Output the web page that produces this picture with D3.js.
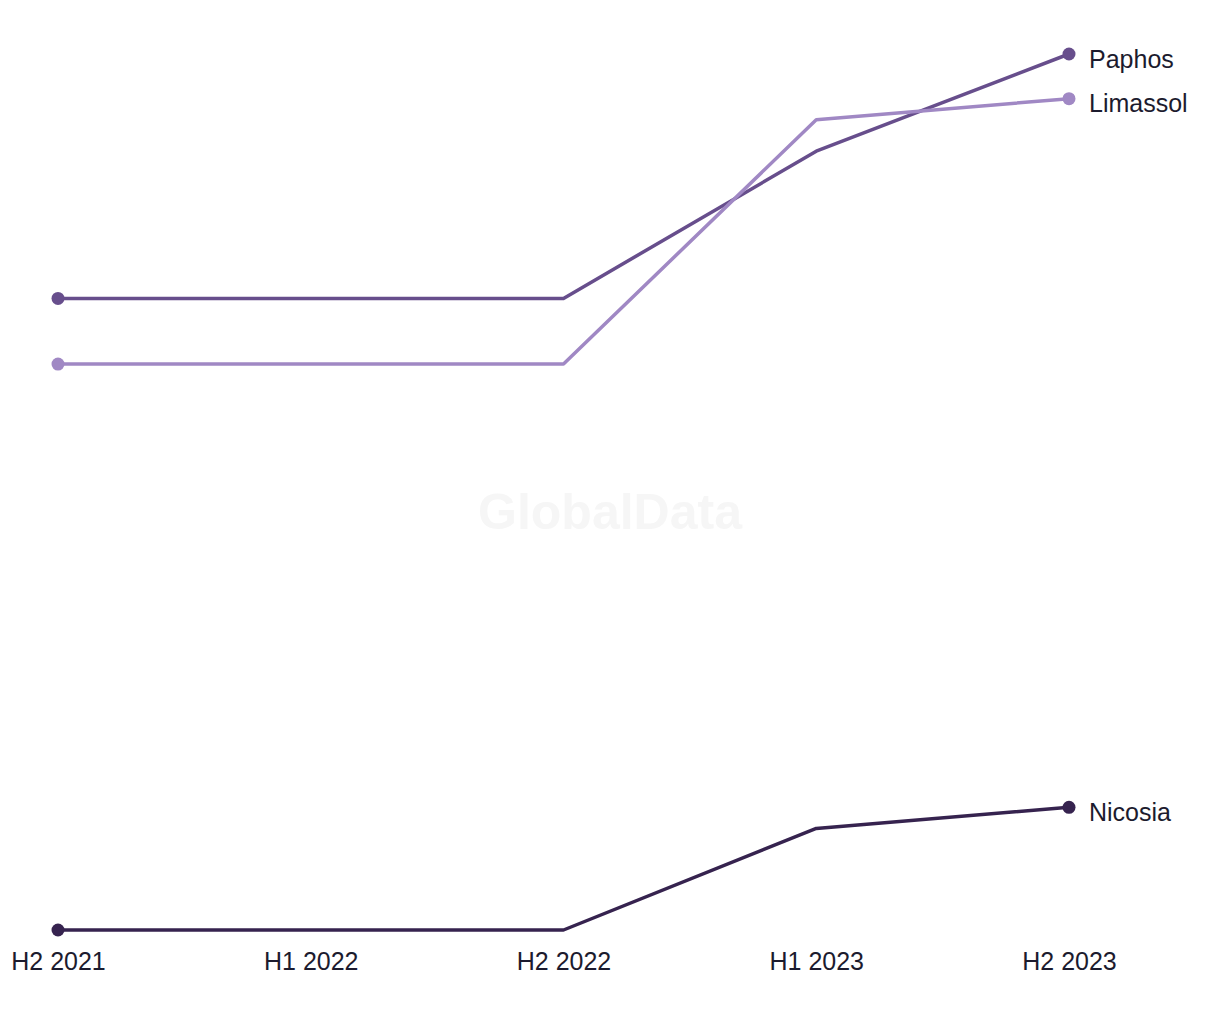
<!DOCTYPE html>
<html>
<head>
<meta charset="utf-8">
<script src="https://cdn.jsdelivr.net/npm/d3@7"></script>
<style>
  body { margin: 0; background: #fff; }
  text { font-family: "Liberation Sans", Arial, sans-serif; }
</style>
</head>
<body>
<div class="canvas"></div>
<script>
const dims = { width: 1220, height: 1020 };
const margin = { left: 58, right: 151, top: 54, bottom: 90 };

// periods along x
const periods = ['H2 2021', 'H1 2022', 'H2 2022', 'H1 2023', 'H2 2023'];

// index values (no y axis shown)
const paphos = [72.1, 72.1, 72.1, 88.9, 100];
const limassol = [64.6, 64.6, 64.6, 92.5, 94.9];
const nicosia = [0, 0, 0, 11.6, 14.0];

const cities = ['Paphos', 'Limassol', 'Nicosia'];
const colours = ['#674e8c', '#a088c4', '#36234f'];

const series = [paphos, limassol, nicosia].map((vals, i) => ({
    name: cities[i],
    colour: colours[i],
    values: vals.map((v, j) => ({ period: periods[j], value: v }))
}));

const svg = d3.select('.canvas')
    .append('svg')
    .attr('width', dims.width)
    .attr('height', dims.height);

const x = d3.scalePoint()
    .domain(periods)
    .range([margin.left, dims.width - margin.right]);

const y = d3.scaleLinear()
    .domain([0, 100])
    .range([dims.height - margin.bottom, margin.top]);

// watermark
svg.append('text')
    .attr('x', 610)
    .attr('y', 529)
    .attr('text-anchor', 'middle')
    .attr('font-size', 50)
    .attr('font-weight', 'bold')
    .attr('fill', '#f6f6f6')
    .text('GlobalData');

// x axis labels
const xAxis = d3.axisBottom(x).tickSize(0).tickPadding(0);
const xGroup = svg.append('g')
    .attr('transform', `translate(0, ${dims.height - margin.bottom + 22})`)
    .call(xAxis);
xGroup.select('.domain').remove();
xGroup.selectAll('text')
    .attr('dy', '0.71em')
    .attr('font-size', 25)
    .attr('fill', '#1c1b2e')
    .style('font-family', '"Liberation Sans", Arial, sans-serif');

const line = d3.line()
    .x(d => x(d.period))
    .y(d => y(d.value));

const groups = svg.selectAll('g.series')
    .data(series)
    .enter()
    .append('g')
    .attr('class', 'series');

groups.append('path')
    .attr('d', d => line(d.values))
    .attr('fill', 'none')
    .attr('stroke', d => d.colour)
    .attr('stroke-width', 3.5)
    .attr('stroke-linejoin', 'round');

// end-point dots
groups.selectAll('circle')
    .data(d => [d.values[0], d.values[d.values.length - 1]].map(v => ({ ...v, colour: d.colour })))
    .enter()
    .append('circle')
    .attr('cx', d => x(d.period))
    .attr('cy', d => y(d.value))
    .attr('r', 6.5)
    .attr('fill', d => d.colour);

// series labels
groups.append('text')
    .attr('x', d => x(d.values[d.values.length - 1].period) + 20)
    .attr('y', d => y(d.values[d.values.length - 1].value) + 5)
    .attr('dy', '0.35em')
    .attr('font-size', 25)
    .attr('fill', '#1c1b2e')
    .text(d => d.name);
</script>
</body>
</html>
